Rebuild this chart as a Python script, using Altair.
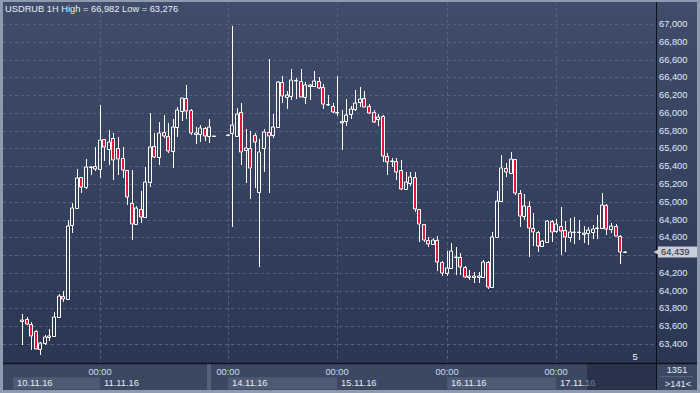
import altair as alt
import pandas as pd

# ---- data (hourly USDRUB candles) ----
opens = [63660, 63680, 63622, 63543, 63347, 63408, 63475, 63493, 63700, 63937,
         63906, 64740, 64926, 65275, 65163, 65388, 65399, 65365, 65703, 65590,
         65714, 65602, 65489, 65354, 64990, 64747, 64915, 64825, 65226, 65631,
         65507, 65788, 65743, 65575, 65845, 66021, 66164, 66032, 65766, 65763,
         65827, 65740, 65740,
         65750, 65770, 65740, 66007, 65583, 65602, 65751, 65107, 65602, 65782,
         65751, 65845, 66344, 66182, 66190, 66365, 66362, 66182, 66306, 66306,
         66359, 66288, 66097, 66081, 66013, 65912, 65912, 65984, 66040, 66126,
         66164, 66074, 66007, 65928, 65961, 65518, 65459, 65459, 65358, 65140,
         65215, 65282, 64915, 64747, 64570, 64522, 64570, 64326, 64195, 64252,
         64375, 64382, 64270, 64157, 64157, 64155, 64150, 64326, 64038, 64607,
         65013, 65377, 65320, 65478, 65095, 64843, 64952, 64702, 64657, 64507,
         64551, 64784, 64671, 64727, 64682, 64607, 64660, 64660, 64643, 64645,
         64657, 64700, 64702, 64964, 64690, 64731, 64619, 64432]
highs = [63737, 63707, 63645, 63560, 63426, 63501, 63565, 63760, 63962, 63993,
         64795, 64983, 65369, 65280, 65481, 65402, 65620, 66089, 65710, 65808,
         65777, 65732, 65613, 65360, 65358, 64952, 65121, 65395, 66002, 65770,
         65901, 65976, 65883, 65931, 66063, 66170, 66314, 66040, 65838, 65864,
         65838, 65931, 65745,
         65760, 66982, 66052, 66111, 65819, 65796, 65770, 65706, 65815, 66606,
         65988, 66359, 66415, 66250, 66490, 66389, 66490, 66351, 66325, 66471,
         66407, 66325, 66201, 66108, 66415, 66032, 66156, 66077, 66257, 66288,
         66246, 66097, 66032, 65984, 65976, 65545, 65489, 65489, 65470, 65339,
         65339, 65339, 64920, 64755, 64607, 64589, 64615, 64330, 64446, 64533,
         64488, 64427, 64275, 64232, 64207, 64213, 64345, 64337, 64663, 65125,
         65526, 65433, 65564, 65485, 65133, 65088, 65009, 64870, 64671, 64570,
         64795, 64790, 64803, 64938, 64784, 64822, 64825, 64795, 64731, 64713,
         64739, 64851, 65102, 64970, 64758, 64750, 64625, 64445]
lows = [63389, 63610, 63332, 63340, 63276, 63389, 63437, 63480, 63690, 63869,
        63900, 64645, 64920, 65102, 65144, 65301, 65350, 65271, 65462, 65414,
        65245, 65301, 65264, 64964, 64570, 64740, 64764, 64820, 65170, 65489,
        65414, 65721, 65552, 65377, 65732, 65912, 65931, 65748, 65650, 65676,
        65687, 65665, 65730,
        65745, 64720, 65735, 65414, 65215, 65031, 65152, 64263, 65339, 65095,
        65714, 65840, 66108, 66040, 66145, 66153, 66175, 66097, 66145, 66300,
        66265, 66040, 66081, 66002, 65965, 65583, 65856, 65931, 66021, 66070,
        66065, 65988, 65890, 65856, 65451, 65301, 65388, 65245, 65135, 65130,
        65178, 64888, 64551, 64551, 64495, 64510, 64225, 64165, 64169, 64245,
        64176, 64176, 64139, 64120, 64090, 64083, 64145, 64015, 64026, 64600,
        65005, 65282, 65315, 65073, 64720, 64795, 64382, 64502, 64438, 64495,
        64545, 64551, 64653, 64401, 64438, 64551, 64525, 64570, 64533, 64514,
        64578, 64578, 64695, 64626, 64653, 64615, 64300, 64420]
closes = [63675, 63624, 63490, 63347, 63408, 63475, 63493, 63700, 63937, 63906,
          64727, 64926, 65264, 65163, 65388, 65395, 65365, 65695, 65613, 65672,
          65466, 65478, 65354, 65050, 64747, 64926, 64825, 65226, 65620, 65507,
          65777, 65743, 65575, 65845, 66032, 66164, 66021, 65770, 65770, 65827,
          65740, 65838, 65736,
          65752, 65864, 65984, 65564, 65602, 65377, 65668, 65557, 65782, 65740,
          65845, 66344, 66186, 66201, 66370, 66362, 66182, 66314, 66312, 66359,
          66284, 66097, 66093, 66013, 65995, 65883, 65976, 66044, 66115, 66153,
          66070, 66002, 65901, 65950, 65518, 65444, 65455, 65339, 65140, 65219,
          65282, 64915, 64747, 64570, 64522, 64570, 64319, 64195, 64252, 64446,
          64380, 64270, 64157, 64160, 64160, 64160, 64326, 64038, 64607, 65013,
          65377, 65332, 65478, 65095, 64843, 64952, 64702, 64657, 64507, 64559,
          64784, 64657, 64747, 64675, 64607, 64657, 64665, 64665, 64647, 64682,
          64690, 64703, 64964, 64690, 64731, 64619, 64432, 64439]
# bar number on the time axis (two empty hours before the Monday open)
slots = list(range(0, 43)) + list(range(45, 133))

y_ticks = list(range(63400, 67001, 200))
day_slots = [-2, 17, 45, 69, 93, 117]
day_labels = ["10.11.16", "11.11.16", "14.11.16", "15.11.16", "16.11.16", "17.11.16"]
hour_labels = ["", "00:00", "00:00", "00:00", "00:00", "00:00"]
box_start = [-2, 45, 93]
box_end = [17, 69, 117]
last_price = 64439
title_text = "USDRUB 1H High = 66,982 Low = 63,276"

# ---- tables ----
df = pd.DataFrame({"slot": slots, "open": opens, "high": highs, "low": lows, "close": closes})
df["top"] = df[["open", "close"]].max(axis=1)
df["bot"] = df[["open", "close"]].min(axis=1)
df["up"] = df["close"] >= df["open"]
days = pd.DataFrame({"slot": day_slots, "label": day_labels, "hour": hour_labels})
boxes = pd.DataFrame({"start": box_start, "end": box_end})
ticks = pd.DataFrame({"v": y_ticks, "t": [f"{v:,}" for v in y_ticks]})
one = pd.DataFrame({"k": [0]})

FONT = "Liberation Sans"
xs = alt.Scale(domain=[-3.0846, 137.77], nice=False, zero=False, round=True)
ys = alt.Scale(domain=[63186.25, 67247.5], nice=False, zero=False, round=True)
X = lambda f: alt.X(f, scale=xs, axis=None)
Y = lambda f: alt.Y(f, scale=ys, axis=None)

grad = {"gradient": "linear", "x1": 0, "y1": 0, "x2": 0, "y2": 1,
        "stops": [{"offset": 0, "color": "#404c69"},
                  {"offset": 0.5, "color": "#354260"},
                  {"offset": 1, "color": "#2b3652"}]}


def rect(x1, x2, y1, y2, **kw):
    return alt.Chart(one).mark_rect(**kw).encode(
        x=alt.value(x1), x2=alt.value(x2), y=alt.value(y1), y2=alt.value(y2))


bg = rect(0, 694, 0, 361, color=grad)
bottom = rect(0, 694, 362, 388, color="#3c4862")
box_l = alt.Chart(boxes).mark_rect(color="#4e5a73").encode(
    x=X("start:Q"), x2="end:Q", y=alt.value(375.3), y2=alt.value(387.3))
weekend = rect(204, 208, 362, 388, color="#56627c")

hgrid = alt.Chart(ticks).mark_rule(
    color="#56627f", strokeDash=[3, 3], strokeWidth=1, yOffset=0.5).encode(
    x=alt.value(0), x2=alt.value(653), y=Y("v:Q"))
# the price tag hides the tick label that lies under it
ylab = alt.Chart(ticks).transform_filter(
    f"abs(datum.v - {last_price}) > 80").mark_text(
    align="left", baseline="middle", color="#e2eaf7", font=FONT, fontSize=9.3).encode(
    x=alt.value(656), y=Y("v:Q"), text="t:N")
vgrid = alt.Chart(days.iloc[1:]).mark_rule(
    color="#56627f", strokeDash=[3, 3], strokeWidth=1, xOffset=0.5).encode(
    x=X("slot:Q"), y=alt.value(0), y2=alt.value(361))

hour_t = alt.Chart(days.iloc[1:]).mark_text(
    align="center", baseline="middle", color="#cadcf3", font=FONT, fontSize=9.3).encode(
    x=X("slot:Q"), y=alt.value(369.5), text="hour:N")
date_t = alt.Chart(days).mark_text(
    align="left", baseline="middle", dx=4, color="#e6ecf6", font=FONT, fontSize=9.3).encode(
    x=X("slot:Q"), y=alt.value(380.5), text="label:N")

vline = alt.Chart(one).mark_rule(color="#0c111e", strokeWidth=1).encode(
    x=alt.value(653.5), y=alt.value(0), y2=alt.value(388))
hline = alt.Chart(one).mark_rule(color="#0c111e", strokeWidth=1.3).encode(
    x=alt.value(0), x2=alt.value(694), y=alt.value(361.5))

base = alt.Chart(df)
wick_hi = base.mark_rule(color="white", strokeWidth=1, xOffset=0.5).encode(
    x=X("slot:Q"), y=Y("high:Q"), y2="top:Q")
wick_lo = base.mark_rule(color="white", strokeWidth=1, xOffset=0.5).encode(
    x=X("slot:Q"), y=Y("bot:Q"), y2="low:Q")
bull = base.transform_filter("datum.up").mark_bar(
    size=3, fillOpacity=0, stroke="white", strokeWidth=1, yOffset=0.5).encode(
    x=X("slot:Q"), y=Y("open:Q"), y2="close:Q")
bear = base.transform_filter("!datum.up").mark_bar(
    size=3, color="#e0163c", stroke="white", strokeWidth=1, yOffset=0.5).encode(
    x=X("slot:Q"), y=Y("open:Q"), y2="close:Q")

title = alt.Chart(one).mark_text(
    align="left", baseline="middle", color="#e8eef7", font=FONT, fontSize=9.3,
    text=title_text).encode(x=alt.value(2), y=alt.value(6.5))
five = alt.Chart(one).mark_text(
    align="center", baseline="middle", color="#f0f4fa", font=FONT, fontSize=9.3,
    text="5").encode(x=alt.value(632), y=alt.value(355))
c1 = alt.Chart(one).mark_text(
    align="center", baseline="middle", color="#e6ecf6", font=FONT, fontSize=9.3,
    text="1351").encode(x=alt.value(674), y=alt.value(368))
c2 = alt.Chart(one).mark_text(
    align="center", baseline="middle", color="#e6ecf6", font=FONT, fontSize=9.3,
    text=">141<").encode(x=alt.value(675), y=alt.value(382))
csep = alt.Chart(one).mark_rule(color="#5c6882", strokeWidth=1).encode(
    x=alt.value(657), x2=alt.value(690), y=alt.value(374.7))

pdf = pd.DataFrame({"p": [last_price], "t": [f"{last_price:,}"]})
tag = alt.Chart(pdf).mark_rule(color="#c8cdd6", strokeWidth=11).encode(
    x=alt.value(655), x2=alt.value(694), y=Y("p:Q"))
tag_tip = alt.Chart(pdf).mark_point(
    shape="triangle-left", filled=True, size=45, color="#c8cdd6", opacity=1).encode(
    x=alt.value(653.5), y=Y("p:Q"))
tag_t = alt.Chart(pdf).mark_text(
    align="left", baseline="middle", color="#1b2436", font=FONT, fontSize=9.3).encode(
    x=alt.value(658), y=Y("p:Q"), text="t:N")

overlay = rect(584, 653, 362, 388, color="#1d273e", opacity=0.6)

chart = alt.layer(
    bg, bottom, box_l, weekend, hgrid, vgrid, hour_t, date_t,
    wick_hi, wick_lo, bull, bear,
    vline, hline, ylab, title, five, c1, c2, csep, tag, tag_tip, tag_t, overlay
).properties(
    width=653, height=361, autosize="none",
    padding={"left": 3, "top": 2, "right": 44, "bottom": 30},
    background="#8e9ab0"
).configure_view(strokeWidth=0)

chart.save("out.html", embed_options={"renderer": "svg", "actions": False})
